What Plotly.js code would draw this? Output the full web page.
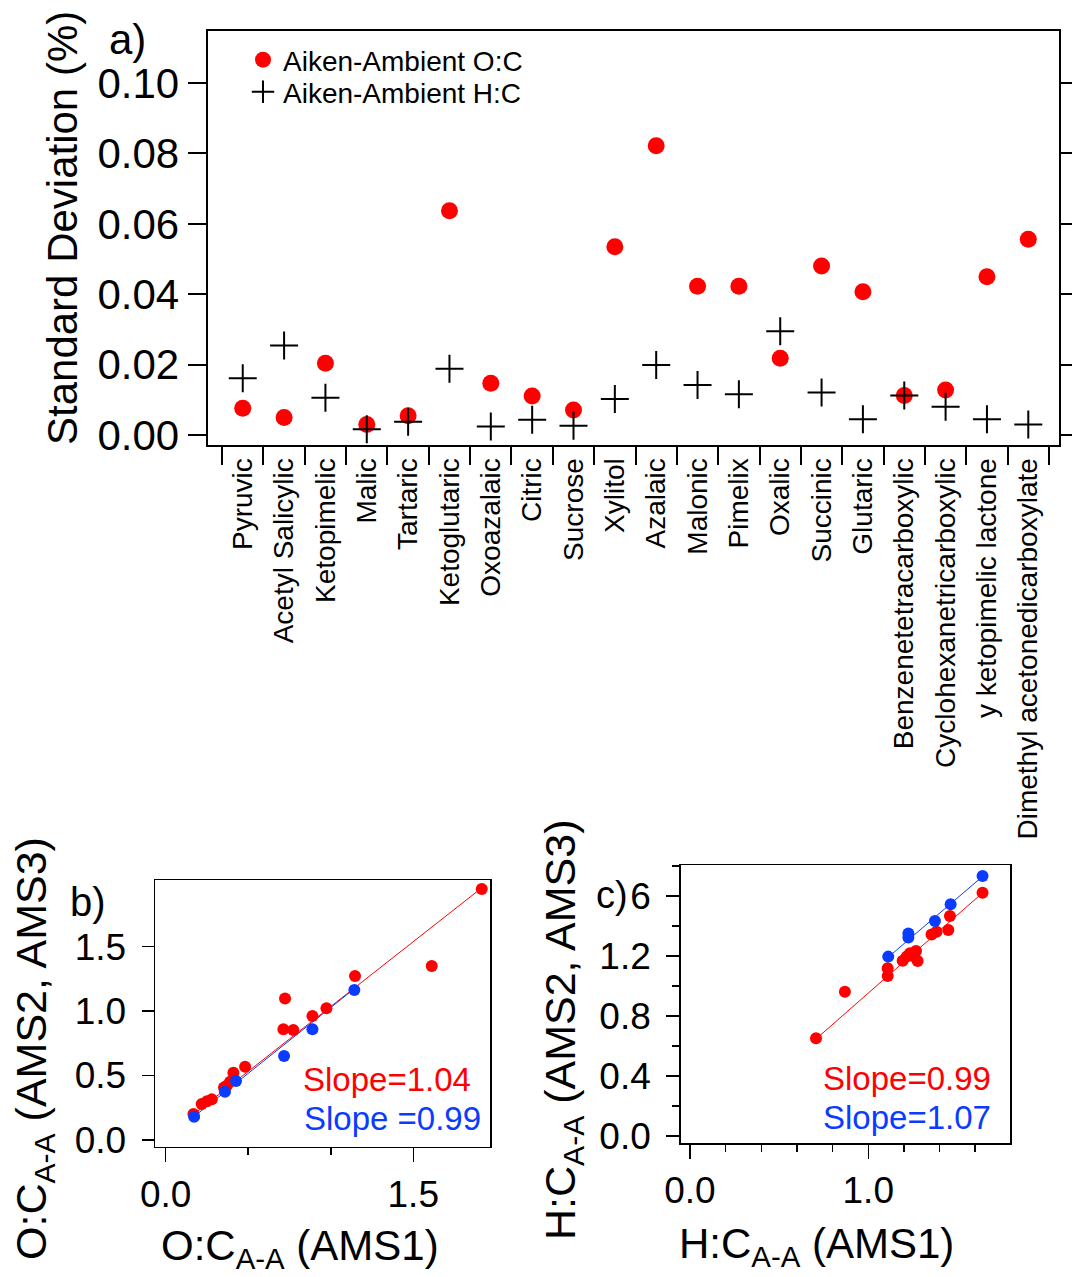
<!DOCTYPE html>
<html>
<head>
<meta charset="utf-8">
<script src="https://cdn.plot.ly/plotly-3.0.1.min.js"></script>
<style>html,body{margin:0;padding:0;background:#fff;}#chart{width:1072px;height:1277px;}</style>
</head>
<body>
<div id="chart"></div>
<script>
// ---- Panel a: standard deviation per compound ----
const categories = ['Pyruvic','Acetyl Salicylic','Ketopimelic','Malic','Tartaric','Ketoglutaric','Oxoazalaic','Citric','Sucrose','Xylitol','Azalaic','Malonic','Pimelix','Oxalic','Succinic','Glutaric','Benzenetetracarboxylic','Cyclohexanetricarboxylic','y ketopimelic lactone','Dimethyl acetonedicarboxylate'];
const ocStd = [0.0076,0.0050,0.0204,0.0030,0.0055,0.0637,0.0147,0.0111,0.0071,0.0535,0.0822,0.0423,0.0423,0.0218,0.0480,0.0407,0.0112,0.0128,0.0450,0.0556];
const hcStd = [0.0161,0.0254,0.0106,0.0016,0.0038,0.0188,0.0024,0.0043,0.0026,0.0102,0.0199,0.0142,0.0116,0.0295,0.0121,0.0045,0.0112,0.0080,0.0045,0.0030];
const yTicksA = [0,0.02,0.04,0.06,0.08,0.10];

// ---- Panel b: O:C A-A, AMS1 vs AMS2/AMS3 ----
const ocAms1Red  = [1.915,1.612,1.147,0.723,0.974,0.889,0.713,0.773,0.481,0.410,0.390,0.353,0.279,0.218,0.168,0.250,0.370];
const ocAms23Red = [1.946,1.349,1.271,1.098,1.021,0.961,0.858,0.853,0.568,0.522,0.452,0.408,0.315,0.279,0.202,0.300,0.420];
const ocAms1Blue  = [1.143,0.889,0.717,0.426,0.359,0.172];
const ocAms23Blue = [1.163,0.858,0.651,0.457,0.374,0.181];
const ocFitRedX = [0.17,1.90], ocFitRedY = [0.20,1.94];
const ocFitBlueX = [0.17,1.14], ocFitBlueY = [0.18,1.17];
const yTicksB = [0,0.5,1.0,1.5];

// ---- Panel c: H:C A-A, AMS1 vs AMS2/AMS3 ----
const hcAms1Red  = [0.707,0.869,1.109,1.109,1.193,1.234,1.268,1.277,1.215,1.355,1.383,1.449,1.458,1.641,1.250];
const hcAms23Red = [0.651,0.962,1.118,1.067,1.169,1.218,1.233,1.167,1.196,1.344,1.362,1.373,1.467,1.622,1.200];
const hcAms1Blue  = [1.112,1.225,1.225,1.374,1.462,1.641];
const hcAms23Blue = [1.196,1.324,1.351,1.433,1.545,1.733];
const hcFitRedX = [0.71,1.64], hcFitRedY = [0.65,1.62];
const hcFitBlueX = [1.11,1.64], hcFitBlueY = [1.19,1.73];
const yTicksC = [0,0.4,0.8,1.2,1.6];
const yTickTextC = ['0.0','0.4','0.8','1.2','6'];

const RED = '#ff0000', BLUE = '#0a3cff', FONT = 'Liberation Sans, Arial, sans-serif';
const W = 1072, H = 1277;
const px = v => v / W, py = v => 1 - v / H;

const traces = [
  {type:'scatter', mode:'markers', x:categories, y:ocStd, xaxis:'x', yaxis:'y', name:'Aiken-Ambient O:C', legend:'legend',
   marker:{color:RED, size:17, symbol:'circle'}},
  {type:'scatter', mode:'markers', x:categories, y:hcStd, xaxis:'x', yaxis:'y', name:'Aiken-Ambient H:C', legend:'legend2',
   marker:{color:'#000', size:20, symbol:'cross-thin', line:{color:'#000', width:2}}},

  {type:'scatter', mode:'lines', x:ocFitRedX, y:ocFitRedY, xaxis:'x2', yaxis:'y2', showlegend:false, line:{color:RED, width:1}},
  {type:'scatter', mode:'lines', x:ocFitBlueX, y:ocFitBlueY, xaxis:'x2', yaxis:'y2', showlegend:false, line:{color:BLUE, width:1}},
  {type:'scatter', mode:'markers', x:ocAms1Red, y:ocAms23Red, xaxis:'x2', yaxis:'y2', showlegend:false, marker:{color:RED, size:12}},
  {type:'scatter', mode:'markers', x:ocAms1Blue, y:ocAms23Blue, xaxis:'x2', yaxis:'y2', showlegend:false, marker:{color:BLUE, size:12}},

  {type:'scatter', mode:'lines', x:hcFitRedX, y:hcFitRedY, xaxis:'x3', yaxis:'y3', showlegend:false, line:{color:RED, width:1}},
  {type:'scatter', mode:'lines', x:hcFitBlueX, y:hcFitBlueY, xaxis:'x3', yaxis:'y3', showlegend:false, line:{color:BLUE, width:1}},
  {type:'scatter', mode:'markers', x:hcAms1Red, y:hcAms23Red, xaxis:'x3', yaxis:'y3', showlegend:false, marker:{color:RED, size:12}},
  {type:'scatter', mode:'markers', x:hcAms1Blue, y:hcAms23Blue, xaxis:'x3', yaxis:'y3', showlegend:false, marker:{color:BLUE, size:12}}
];

const axBase = {showgrid:false, zeroline:false, showline:true, linecolor:'#000', ticks:'outside', tickcolor:'#000', color:'#000'};
const legBase = {xanchor:'left', yanchor:'top', bgcolor:'rgba(0,0,0,0)', font:{size:28, family:FONT, color:'#000'}, tracegroupgap:0};

const layout = {
  width:W, height:H, margin:{l:0,r:0,t:0,b:0}, paper_bgcolor:'#fff', plot_bgcolor:'#fff',
  font:{family:FONT, color:'#000'},
  showlegend:true,
  legend:Object.assign({}, legBase, {x:px(243), y:py(35)}),
  legend2:Object.assign({}, legBase, {x:px(243), y:py(67)}),
  xaxis:Object.assign({}, axBase, {domain:[px(207.6), px(1059.3)], anchor:'y', type:'category', range:[-0.85,19.75],
    tickson:'boundaries', ticklen:18, tickwidth:2, linewidth:2, mirror:true, tickangle:-90, tickfont:{size:28}}),
  yaxis:Object.assign({}, axBase, {domain:[py(445), py(31)], anchor:'x', range:[-0.00284,0.1148], tickmode:'array', tickvals:yTicksA,
    tickformat:'.2f', ticklen:18, tickwidth:2, linewidth:2, mirror:'ticks', tickfont:{size:42}, ticklabelstandoff:0}),

  xaxis2:Object.assign({}, axBase, {domain:[px(155), px(490)], anchor:'y2', range:[-0.065,1.965], tickmode:'linear', tick0:0, dtick:1.5,
    tickformat:'.1f', ticklen:14, tickwidth:1.5, linewidth:1.5, mirror:true, tickfont:{size:37}, ticklabelstandoff:0,
    minor:{tickmode:'linear', tick0:0, dtick:0.5, ticks:'outside', ticklen:7, tickwidth:1.5, tickcolor:'#000'}}),
  yaxis2:Object.assign({}, axBase, {domain:[py(1146.7), py(880)], anchor:'x2', range:[-0.052,2.016], tickmode:'array', tickvals:yTicksB,
    tickformat:'.1f', ticklen:12, tickwidth:1.5, linewidth:1.5, mirror:true, tickfont:{size:37}, ticklabelstandoff:8}),

  xaxis3:Object.assign({}, axBase, {domain:[px(680.7), px(1010)], anchor:'y3', range:[-0.052,1.795], tickmode:'linear', tick0:0, dtick:1,
    tickformat:'.1f', ticklen:14, tickwidth:1.5, linewidth:1.5, mirror:true, tickfont:{size:37}, ticklabelstandoff:0,
    minor:{tickmode:'linear', tick0:0, dtick:0.2, ticks:'outside', ticklen:7, tickwidth:1.5, tickcolor:'#000'}}),
  yaxis3:Object.assign({}, axBase, {domain:[py(1143.3), py(865)], anchor:'x3', range:[-0.049,1.807], tickmode:'array',
    tickvals:yTicksC, ticktext:yTickTextC, ticklen:13, tickwidth:1.5, linewidth:1.5, mirror:true, tickfont:{size:37}, ticklabelstandoff:8,
    minor:{tickmode:'linear', tick0:0, dtick:0.2, ticks:'outside', ticklen:7, tickwidth:1.5, tickcolor:'#000'}}),

  annotations:[
    {text:'Standard Deviation (%)', xref:'paper', yref:'paper', x:px(63), y:py(228), xanchor:'center', yanchor:'middle', textangle:-90, showarrow:false, font:{size:42}},
    {text:'a)', xref:'paper', yref:'paper', x:px(127), y:py(40), xanchor:'center', yanchor:'middle', showarrow:false, font:{size:42}},
    {text:'b)', xref:'paper', yref:'paper', x:px(88), y:py(902), xanchor:'center', yanchor:'middle', showarrow:false, font:{size:40}},
    {text:'c)', xref:'paper', yref:'paper', x:px(612), y:py(895), xanchor:'center', yanchor:'middle', showarrow:false, font:{size:38}},
    {text:'O:C<sub>A-A</sub> (AMS2, AMS3)', xref:'paper', yref:'paper', x:px(34), y:py(1049), xanchor:'center', yanchor:'middle', textangle:-90, showarrow:false, font:{size:43}},
    {text:'O:C<sub>A-A</sub> (AMS1)', xref:'paper', yref:'paper', x:px(300), y:py(1248), xanchor:'center', yanchor:'middle', showarrow:false, font:{size:42}},
    {text:'H:C<sub>A-A</sub> (AMS2, AMS3)', xref:'paper', yref:'paper', x:px(563), y:py(1030), xanchor:'center', yanchor:'middle', textangle:-90, showarrow:false, font:{size:43}},
    {text:'H:C<sub>A-A</sub> (AMS1)', xref:'paper', yref:'paper', x:px(816), y:py(1246), xanchor:'center', yanchor:'middle', showarrow:false, font:{size:42}},
    {text:'Slope=1.04', xref:'paper', yref:'paper', x:px(387), y:py(1079), xanchor:'center', yanchor:'middle', showarrow:false, font:{size:33, color:RED}},
    {text:'Slope =0.99', xref:'paper', yref:'paper', x:px(392), y:py(1118), xanchor:'center', yanchor:'middle', showarrow:false, font:{size:33, color:BLUE}},
    {text:'Slope=0.99', xref:'paper', yref:'paper', x:px(907), y:py(1078), xanchor:'center', yanchor:'middle', showarrow:false, font:{size:33, color:RED}},
    {text:'Slope=1.07', xref:'paper', yref:'paper', x:px(907), y:py(1117), xanchor:'center', yanchor:'middle', showarrow:false, font:{size:33, color:BLUE}}
  ]
};

Plotly.newPlot('chart', traces, layout, {staticPlot:true, displayModeBar:false});
</script>
</body>
</html>
